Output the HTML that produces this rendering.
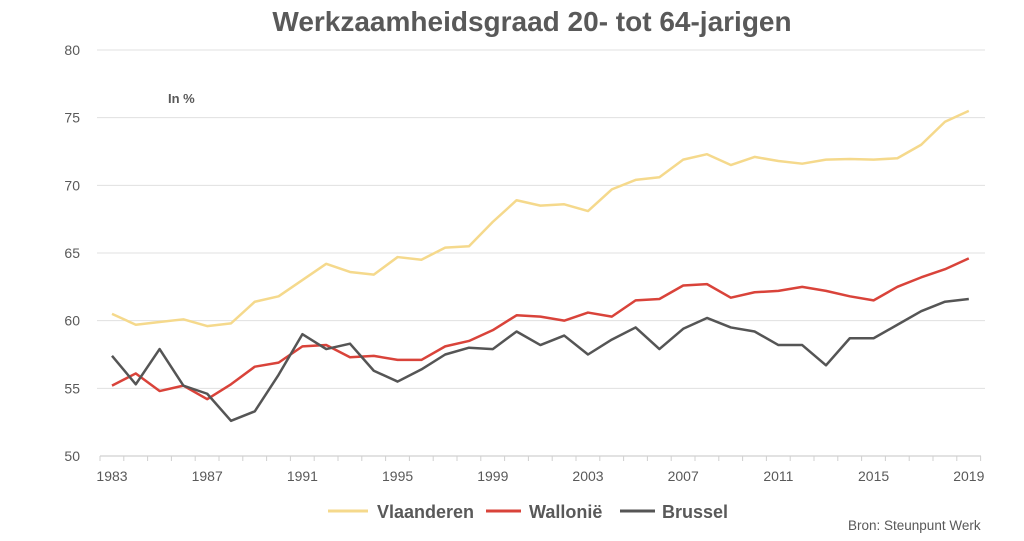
<!DOCTYPE html>
<html><head><meta charset="utf-8"><style>
body{margin:0;background:#fff;}
svg text{font-family:"Liberation Sans",sans-serif;}
</style></head><body>
<svg id="c" width="1024" height="536" xmlns="http://www.w3.org/2000/svg">
<text x="532" y="31" text-anchor="middle" font-size="28" font-weight="bold" fill="#595959">Werkzaamheidsgraad 20- tot 64-jarigen</text>
<text x="168" y="103" font-size="13" font-weight="bold" fill="#595959">In %</text>
<g id="grid"></g>
<g id="lines"></g>
<line x1="328" y1="511" x2="368" y2="511" stroke="#f5d98c" stroke-width="3"/>
<text x="377" y="518" font-size="18" font-weight="bold" fill="#595959">Vlaanderen</text>
<line x1="486" y1="511" x2="521" y2="511" stroke="#d9433a" stroke-width="3"/>
<text x="529" y="518" font-size="18" font-weight="bold" fill="#595959">Wallonië</text>
<line x1="620" y1="511" x2="655" y2="511" stroke="#555" stroke-width="3"/>
<text x="662" y="518" font-size="18" font-weight="bold" fill="#595959">Brussel</text>
<text x="848" y="530" font-size="13.5" fill="#595959">Bron: Steunpunt Werk</text>
</svg>
<script>
const ns="http://www.w3.org/2000/svg";
const g=document.getElementById('grid'),L=document.getElementById('lines');
function el(p,t,a){const e=document.createElementNS(ns,t);for(const k in a)e.setAttribute(k,a[k]);p.appendChild(e);return e;}
const Y=v=>456-(v-50)*(406/30), X=i=>112+i*23.8;
for(let v=50;v<=80;v+=5){if(v>50)el(g,'line',{x1:97,x2:985,y1:Y(v),y2:Y(v),stroke:'#e0e0e0','stroke-width':1});
const t=el(g,'text',{x:80,y:Y(v)+5,'text-anchor':'end','font-size':14,fill:'#595959'});t.textContent=v;}
el(g,'line',{x1:100,x2:981,y1:456,y2:456,stroke:'#d0d0d0','stroke-width':1.2});
for(let i=0;i<=37;i++)el(g,'line',{x1:100+i*23.8,x2:100+i*23.8,y1:456,y2:461,stroke:'#d0d0d0'});
for(let i=0;i<37;i+=4){const t=el(g,'text',{x:X(i),y:481,'text-anchor':'middle','font-size':14,fill:'#595959'});t.textContent=1983+i;}
const V=[60.5,59.7,59.9,60.1,59.6,59.8,61.4,61.8,63.0,64.2,63.6,63.4,64.7,64.5,65.4,65.5,67.3,68.9,68.5,68.6,68.1,69.7,70.4,70.6,71.9,72.3,71.5,72.1,71.8,71.6,71.9,71.95,71.9,72.0,73.0,74.7,75.5];
const W=[55.2,56.1,54.8,55.2,54.2,55.3,56.6,56.9,58.1,58.2,57.3,57.4,57.1,57.1,58.1,58.5,59.3,60.4,60.3,60.0,60.6,60.3,61.5,61.6,62.6,62.7,61.7,62.1,62.2,62.5,62.2,61.8,61.5,62.5,63.2,63.8,64.6];
const B=[57.4,55.3,57.9,55.2,54.6,52.6,53.3,56.0,59.0,57.9,58.3,56.3,55.5,56.4,57.5,58.0,57.9,59.2,58.2,58.9,57.5,58.6,59.5,57.9,59.4,60.2,59.5,59.2,58.2,58.2,56.7,58.7,58.7,59.7,60.7,61.4,61.6];
[[V,'#f5d98c'],[W,'#d9433a'],[B,'#555']].forEach(([d,c])=>{
el(L,'polyline',{points:d.map((v,i)=>X(i)+','+Y(v)).join(' '),fill:'none',stroke:c,'stroke-width':2.5,'stroke-linejoin':'round'});});
</script>
</body></html>
